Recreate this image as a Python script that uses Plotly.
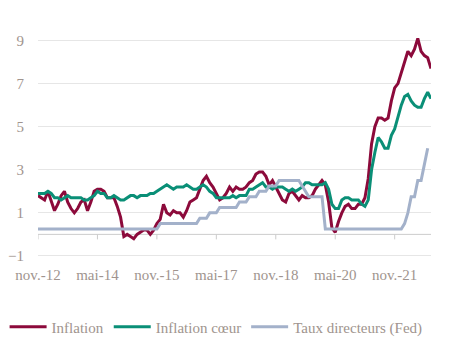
import plotly.graph_objects as go

# Monthly data, Nov 2012 -> Oct 2022
inflation = [
    1.8, 1.7,
    1.6, 2.0, 1.5, 1.1, 1.4, 1.8, 2.0, 1.5, 1.2, 1.0, 1.2, 1.5,
    1.6, 1.1, 1.5, 2.0, 2.1, 2.1, 2.0, 1.7, 1.7, 1.7, 1.3, 0.8,
    -0.1, 0.0, -0.1, -0.2, 0.0, 0.1, 0.2, 0.2, 0.0, 0.2, 0.5, 0.7,
    1.4, 1.0, 0.9, 1.1, 1.0, 1.0, 0.8, 1.1, 1.5, 1.6, 1.7, 2.1,
    2.5, 2.7, 2.4, 2.2, 1.9, 1.6, 1.7, 1.9, 2.2, 2.0, 2.2, 2.1,
    2.1, 2.2, 2.4, 2.5, 2.8, 2.9, 2.9, 2.7, 2.3, 2.5, 2.2, 1.9,
    1.6, 1.5, 1.9, 2.0, 1.8, 1.6, 1.8, 1.7, 1.7, 1.8, 2.1, 2.3,
    2.5, 2.3, 1.5, 0.3, 0.1, 0.6, 1.0, 1.3, 1.4, 1.2, 1.2, 1.4,
    1.4, 1.7, 2.6, 4.2, 5.0, 5.4, 5.4, 5.3, 5.4, 6.2, 6.8, 7.0,
    7.5, 7.9, 8.5, 8.3, 8.6, 9.1, 8.5, 8.3, 8.2, 7.7,
]
core = [
    1.9, 1.9,
    1.9, 2.0, 1.9, 1.7, 1.7, 1.6, 1.7, 1.8, 1.7, 1.7, 1.7, 1.7,
    1.6, 1.6, 1.7, 1.8, 2.0, 1.9, 1.9, 1.7, 1.7, 1.8, 1.7, 1.6,
    1.6, 1.7, 1.8, 1.8, 1.7, 1.8, 1.8, 1.8, 1.9, 1.9, 2.0, 2.1,
    2.2, 2.3, 2.2, 2.1, 2.2, 2.2, 2.2, 2.3, 2.2, 2.1, 2.1, 2.2,
    2.3, 2.2, 2.0, 1.9, 1.7, 1.7, 1.7, 1.7, 1.7, 1.8, 1.7, 1.8,
    1.8, 1.8, 2.1, 2.1, 2.2, 2.3, 2.4, 2.2, 2.2, 2.1, 2.2, 2.2,
    2.2, 2.1, 2.0, 2.1, 2.0, 2.1, 2.2, 2.4, 2.4, 2.3, 2.3, 2.3,
    2.3, 2.4, 2.1, 1.4, 1.2, 1.2, 1.6, 1.7, 1.7, 1.6, 1.6, 1.6,
    1.4, 1.3, 1.6, 3.0, 3.8, 4.5, 4.3, 4.0, 4.0, 4.6, 4.9, 5.5,
    6.0, 6.4, 6.5, 6.2, 6.0, 5.9, 5.9, 6.3, 6.6, 6.3,
]
fed = (
    [0.25] * 37 + [0.5] * 12 + [0.75] * 3 + [1.0] * 3 + [1.25] * 6
    + [1.5] * 3 + [1.75] * 3 + [2.0] * 3 + [2.25] * 3 + [2.5] * 7
    + [2.25, 2.0] + [1.75] * 5 + [0.25] * 24
    + [0.5, 1.0, 1.75, 1.75, 2.5, 2.5, 3.25, 4.0]
)

tick_idx = [0, 18, 36, 54, 72, 90, 108]
tick_labels = ["nov.-12", "mai-14", "nov.-15", "mai-17", "nov.-18", "mai-20", "nov.-21"]
names = ["Inflation", "Inflation cœur", "Taux directeurs (Fed)"]
colors = ["#8C0A3B", "#0A8F77", "#A3B1CA"]

x = list(range(len(inflation)))
FAM = "Liberation Serif"
txt_col = "#A0948E"
axis_col = "#CCCCCC"

ymin, ymax = -1.05, 10
tick_drop = 5 * (ymax - ymin) / 238.0  # 5 px expressed in axis units

fig = go.Figure()

# axis line at y = 0 with small downward ticks (drawn beneath the series)
ax_x, ax_y = [x[0], x[-1]], [0, 0]
for t in tick_idx:
    ax_x += [None, t, t]
    ax_y += [None, 0, -tick_drop]
fig.add_trace(go.Scatter(x=ax_x, y=ax_y, mode="lines", showlegend=False,
                         hoverinfo="skip", connectgaps=False,
                         line=dict(color=axis_col, width=1)))

for name, ys, col in zip(names, [inflation, core, fed], colors):
    fig.add_trace(go.Scatter(x=x, y=ys, mode="lines", name=name,
                             line=dict(color=col, width=3)))

fig.update_layout(
    width=450, height=354,
    margin=dict(l=38, r=19, t=19, b=97, autoexpand=False),
    paper_bgcolor="white", plot_bgcolor="white",
    font=dict(family=FAM, size=15, color=txt_col),
    showlegend=True,
    legend=dict(orientation="h", x=-0.085, xanchor="left", y=-0.294, yanchor="middle",
                font=dict(family=FAM, size=15, color=txt_col), itemwidth=37,
                tracegroupgap=0),
    xaxis=dict(range=[0, len(x) - 1], tickvals=tick_idx, ticktext=tick_labels,
               showgrid=False, zeroline=False, showline=False, automargin=False,
               ticks="outside", ticklen=4, tickcolor="rgba(0,0,0,0)",
               tickfont=dict(family=FAM, size=15, color=txt_col)),
    yaxis=dict(range=[ymin, ymax], tick0=-1, dtick=2, automargin=False,
               showgrid=True, gridcolor="#E6E6E6", gridwidth=1,
               zeroline=False, showline=False,
               ticks="outside", ticklen=10, tickcolor="rgba(0,0,0,0)",
               tickfont=dict(family=FAM, size=15, color=txt_col)),
)

fig.write_html("out.html")
